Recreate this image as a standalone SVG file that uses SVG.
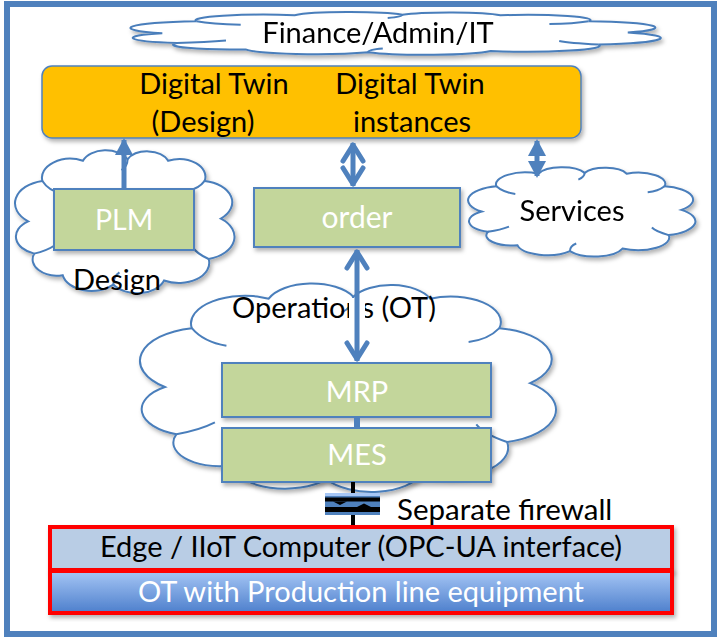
<svg xmlns="http://www.w3.org/2000/svg" xmlns:xlink="http://www.w3.org/1999/xlink" width="718" height="640" viewBox="0 0 718 640">
<style>
text{font-family:Lato,"Liberation Sans",sans-serif;}
.cl{fill:#fff;stroke:#4a7ebb;stroke-width:2;}
.ci{fill:none;stroke:#4a7ebb;stroke-width:2;}
.bx{fill:#c3d69b;stroke:#4f81bd;stroke-width:2;}
.wt{fill:#fff;font-size:29px;text-anchor:middle;}
.bt{fill:#000;font-size:29px;text-anchor:middle;}
.ar{stroke:#4f81bd;stroke-width:5;fill:none;}
</style>
<defs>
<filter id="sh" x="-10%" y="-10%" width="125%" height="130%">
<feDropShadow dx="2" dy="3" stdDeviation="2" flood-color="#000" flood-opacity="0.3"/>
</filter>
<linearGradient id="otg" x1="0" y1="0" x2="0" y2="1">
<stop offset="0" stop-color="#a6c6f5"/>
<stop offset="1" stop-color="#4d7fcc"/>
</linearGradient>
<path id="cloudO" vector-effect="non-scaling-stroke" d="M3,50 A17,17 0 0 1 10,20 A14,14 0 0 1 30,5 A12,12 0 0 1 52,4 A11,11 0 0 1 72,5 A13,13 0 0 1 90,20 A16,16 0 0 1 98,48 A17,17 0 0 1 92,78 A15,15 0 0 1 70,94 A14,14 0 0 1 45,97 A14.5,14.5 0 0 1 20,90 A12,12 0 0 1 6,74 A13.5,13.5 0 0 1 3,50 Z"/>
<path id="cloudI" vector-effect="non-scaling-stroke" d="M10,20 Q13,27 19,29 M52,4 Q52,9 49,12 M90,20 Q87,26 82,27 M92,78 Q86,74 84,69 M45,97 Q45,91 48,88 M6,74 Q12,72 16,68"/>
<marker id="tri" markerUnits="userSpaceOnUse" orient="auto-start-reverse" refX="0" refY="0" overflow="visible">
<path d="M2,0 L-15,-9 L-15,9 Z" fill="#4f81bd"/>
</marker>
<marker id="chev" markerUnits="userSpaceOnUse" orient="auto-start-reverse" refX="0" refY="0" overflow="visible">
<path d="M-18,-10 L-2,0 L-18,10" fill="none" stroke="#4f81bd" stroke-width="5" stroke-linejoin="round" stroke-linecap="round"/>
</marker>
</defs>

<rect id="frame" x="7" y="4" width="707" height="630" fill="#fff" stroke="#4f81bd" stroke-width="6"/>

<g id="cloud-finance" filter="url(#sh)">
<g transform="translate(147.6,13.2) scale(4.9,0.402)">
<use xlink:href="#cloudO" class="cl"/><use xlink:href="#cloudI" class="ci"/>
</g>
<text class="bt" x="378" y="43">Finance/Admin/IT</text>
</g>

<g id="digital-twin">
<rect x="42" y="66" width="539" height="72" rx="10" fill="#ffc000" stroke="#4f81bd" stroke-width="1.5" filter="url(#sh)"/>
<text class="bt" x="214" y="94">Digital Twin</text>
<text class="bt" x="203" y="132">(Design)</text>
<text class="bt" x="410" y="94">Digital Twin</text>
<text class="bt" x="412" y="132">instances</text>
</g>

<g id="cloud-design" filter="url(#sh)">
<g transform="translate(22.1,154) scale(2.028,1.346)">
<use xlink:href="#cloudO" class="cl"/><use xlink:href="#cloudI" class="ci"/>
</g>
</g>

<g id="cloud-services" filter="url(#sh)">
<g transform="translate(475.4,169.5) scale(2.101,0.841)">
<use xlink:href="#cloudO" class="cl"/><use xlink:href="#cloudI" class="ci"/>
</g>
<text class="bt" x="572" y="221">Services</text>
</g>

<g id="cloud-operations" filter="url(#sh)">
<g transform="translate(153.4,288.9) scale(3.844,1.963)">
<use xlink:href="#cloudO" class="cl"/><use xlink:href="#cloudI" class="ci"/>
</g>
</g>
<text class="bt" x="334" y="318">Operations (OT)</text>
<text class="bt" x="117" y="290">Design</text>

<g id="plm">
<rect class="bx" x="54" y="189" width="140" height="61" filter="url(#sh)"/>
<text class="wt" x="124" y="230" style="font-size:28.5px">PLM</text>
</g>

<g id="order">
<rect class="bx" x="254" y="188" width="206" height="59" filter="url(#sh)"/>
<text class="wt" x="357" y="228" style="font-size:30px">order</text>
</g>

<g id="mrp">
<rect class="bx" x="222" y="363" width="269" height="54" filter="url(#sh)"/>
<text class="wt" x="357" y="402">MRP</text>
</g>

<g id="mes">
<rect class="bx" x="222" y="428" width="269" height="54" filter="url(#sh)"/>
<text class="wt" x="357" y="465">MES</text>
</g>

<g id="connectors">
<line class="ar" x1="124" y1="189" x2="124" y2="140" marker-end="url(#tri)"/>
<line class="ar" x1="537" y1="141" x2="537" y2="176" marker-start="url(#tri)" marker-end="url(#tri)"/>
<line class="ar" x1="353" y1="143" x2="353" y2="186" marker-start="url(#chev)" marker-end="url(#chev)"/>
<line x1="357" y1="298" x2="357" y2="323" stroke="#fff" stroke-width="16"/>
<line class="ar" x1="357" y1="250" x2="357" y2="361" marker-start="url(#chev)" marker-end="url(#chev)"/>
<rect x="354" y="417" width="6" height="11" fill="#4f81bd"/>
<line x1="353" y1="482" x2="353" y2="525" stroke="#000" stroke-width="4"/>
</g>

<g id="firewall">
<rect x="325" y="493" width="55" height="22" fill="#4f81bd"/>
<rect x="325" y="493" width="55" height="3" fill="#a6c6f5"/>
<rect x="325" y="497.5" width="55" height="4" fill="#000"/>
<path d="M333,501.5 L347,501.5 L340,505 Z" fill="#000"/>
<path d="M357,507 L371,507 L364,503.5 Z" fill="#000"/>
<rect x="325" y="507" width="55" height="5" fill="#000"/>
<text x="397" y="520" style="font-size:29.5px" fill="#000">Separate firewall</text>
</g>

<g id="edge">
<rect x="50" y="527" width="622" height="43" fill="#b9cde5" stroke="#ff0000" stroke-width="4" filter="url(#sh)"/>
<text class="bt" x="361" y="557">Edge / IIoT Computer (OPC-UA interface)</text>
</g>

<g id="ot">
<rect x="50" y="571" width="622" height="42" fill="url(#otg)" stroke="#ff0000" stroke-width="4" filter="url(#sh)"/>
<text class="wt" x="361" y="602">OT with Production line equipment</text>
</g>
</svg>
